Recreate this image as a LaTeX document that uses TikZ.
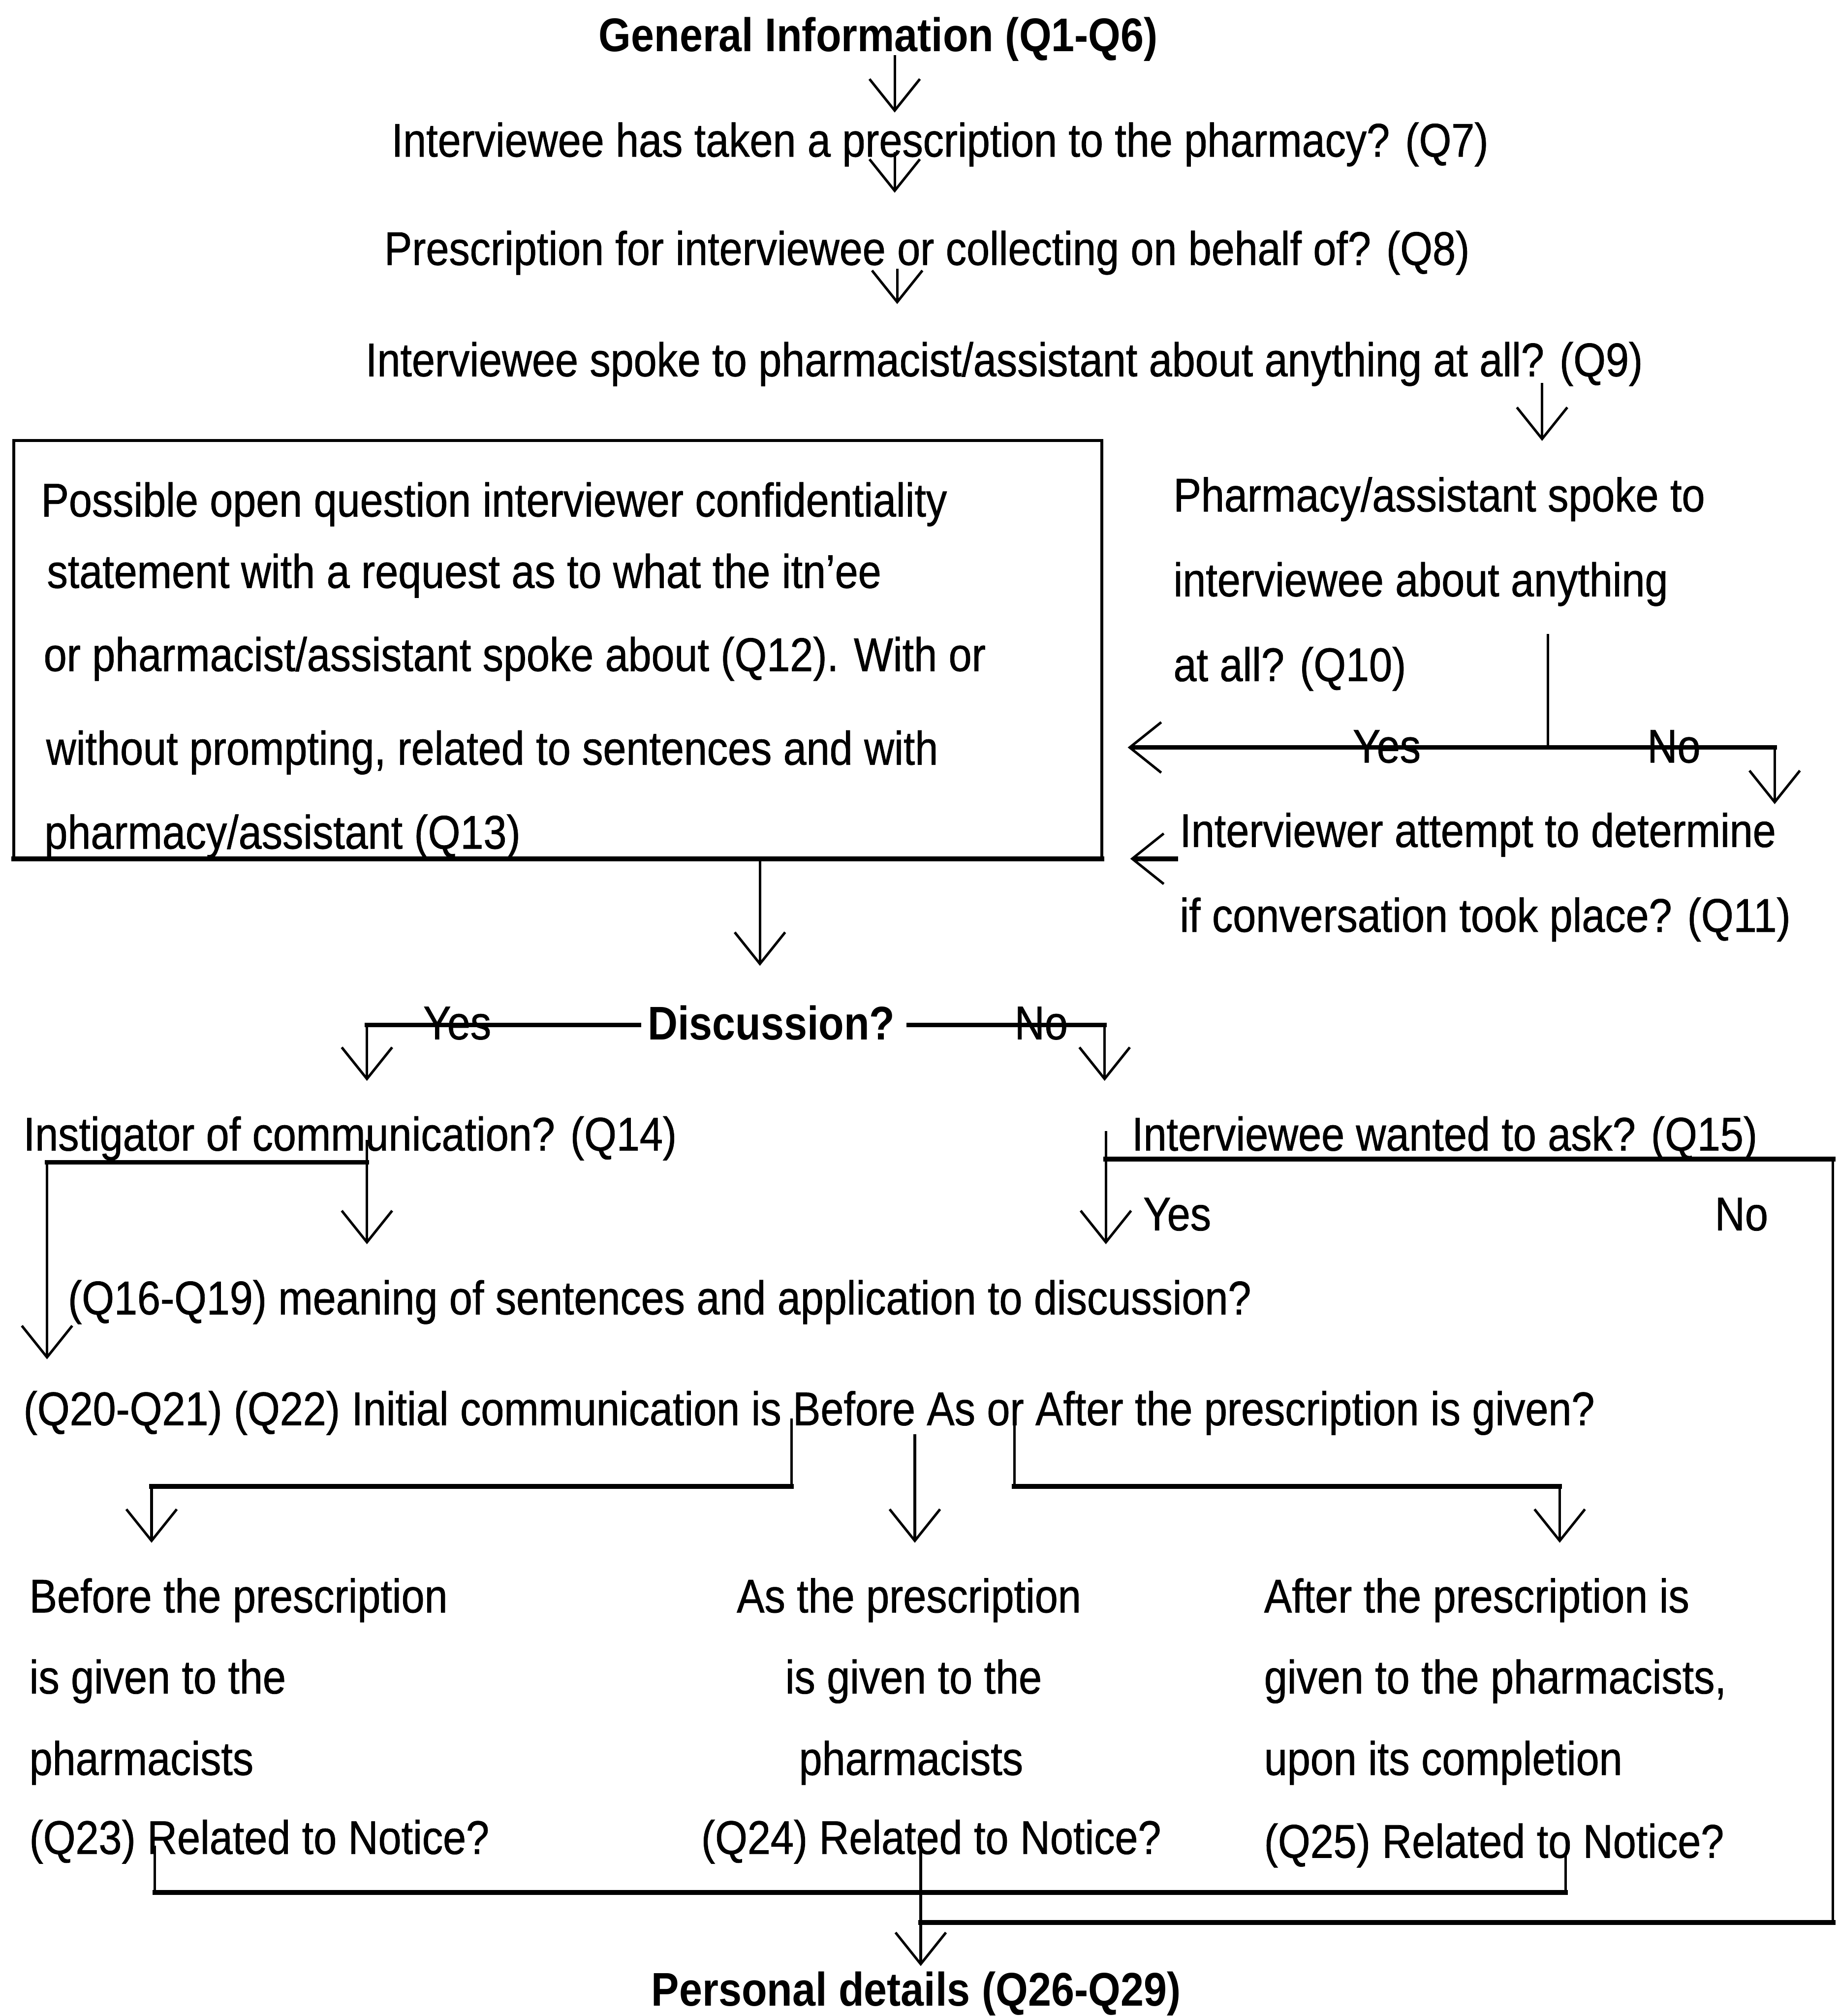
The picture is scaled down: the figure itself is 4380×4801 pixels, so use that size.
\documentclass[tikz,border=0pt]{standalone}
\usepackage{fontspec}
\setmainfont{Liberation Sans}[FakeStretch=0.88,UprightFeatures={FakeBold=0.8}]
\usetikzlibrary{arrows.meta}
\begin{document}
\begin{tikzpicture}[x=0.01cm,y=-0.01cm,
  every node/.style={inner sep=0pt,outer sep=0pt},
  lbl/.style={font=\fontsize{32}{38}\selectfont,anchor=base west},
  clbl/.style={font=\fontsize{32}{38}\selectfont,anchor=base},
  hdr/.style={font=\fontsize{32}{38}\selectfont\bfseries,anchor=base},
  thinline/.style={line width=1.7pt},
  heavyline/.style={line width=3.2pt,line cap=rect},
  flow/.style={thinline,-{Straight Barb[length=7.5mm,width=12mm,line width=1.7pt]}},
  heavyflow/.style={line width=3.2pt,-{Straight Barb[length=7.5mm,width=12mm,line width=1.7pt]}},
]
\useasboundingbox (0,0) rectangle (4380,4801);
\fill[white] (0,0) rectangle (4380,4801);

% ---- questions at the top ----
\node[hdr]  (gen) at (2092,122) {General Information (Q1-Q6)};
\node[clbl] (q7)  at (2239,373) {Interviewee has taken a prescription to the pharmacy? (Q7)};
\node[clbl] (q8)  at (2208,631) {Prescription for interviewee or collecting on behalf of? (Q8)};
\node[clbl] (q9)  at (2392,896) {Interviewee spoke to pharmacist/assistant about anything at all? (Q9)};

% ---- open question box ----
\node[draw,line width=2.2pt,anchor=north west,minimum width=25.9cm,minimum height=9.96cm] (box) at (33,1049) {};
\node[lbl] (b1) at (98,1230)  {Possible open question interviewer confidentiality};
\node[lbl] (b2) at (112,1400) {statement with a request as to what the itn'ee};
\node[lbl] (b3) at (104,1598) {or pharmacist/assistant spoke about (Q12). With or};
\node[lbl] (b4) at (110,1821) {without prompting, related to sentences and with};
\node[lbl] (b5) at (106,2021) {pharmacy/assistant (Q13)};

% ---- Q10 / Q11 ----
\node[lbl] (q10a) at (2795,1218) {Pharmacy/assistant spoke to};
\node[lbl] (q10b) at (2795,1420) {interviewee about anything};
\node[lbl] (q10c) at (2795,1622) {at all? (Q10)};
\node[lbl] (q11a) at (2810,2017) {Interviewer attempt to determine};
\node[lbl] (q11b) at (2810,2219) {if conversation took place? (Q11)};
\node[clbl] (yesA) at (3303,1816) {Yes};
\node[clbl] (noA)  at (3987,1816) {No};

% ---- discussion ----
\node[hdr]  (disc) at (1837,2476) {Discussion?};
\node[clbl] (yesB) at (1089,2475) {Yes};
\node[clbl] (noB)  at (2480,2475) {No};

\node[lbl] (q14) at (56,2740)   {Instigator of communication? (Q14)};
\node[lbl] (q15) at (2696,2740) {Interviewee wanted to ask? (Q15)};
\node[lbl] (yesC) at (2723,2930) {Yes};
\node[clbl] (noC) at (4148,2930) {No};
\node[lbl] (q16) at (162,3130) {(Q16-Q19) meaning of sentences and application to discussion?};
\node[lbl] (q20) at (56,3394)  {(Q20-Q21) (Q22) Initial communication is Before As or After the prescription is given?};

% ---- timing columns ----
\node[lbl] (c1a) at (70,3840) {Before the prescription};
\node[lbl] (c1b) at (70,4033) {is given to the};
\node[lbl] (c1c) at (70,4227) {pharmacists};
\node[lbl] (c1d) at (70,4415) {(Q23) Related to Notice?};
\node[clbl] (c2a) at (2165,3840) {As the prescription};
\node[clbl] (c2b) at (2176,4033) {is given to the};
\node[clbl] (c2c) at (2170,4227) {pharmacists};
\node[clbl] (c2d) at (2218,4415) {(Q24) Related to Notice?};
\node[lbl] (c3a) at (3011,3840) {After the prescription is};
\node[lbl] (c3b) at (3011,4033) {given to the pharmacists,};
\node[lbl] (c3c) at (3011,4227) {upon its completion};
\node[lbl] (c3d) at (3011,4424) {(Q25) Related to Notice?};

\node[hdr] (pers) at (2182,4777) {Personal details (Q26-Q29)};

% ---- connector points ----
\coordinate (c1s) at (2131,131);  \coordinate (c1t) at (2131,268);
\coordinate (c2s) at (2131,362);  \coordinate (c2t) at (2131,459);
\coordinate (c3s) at (2137,640);  \coordinate (c3t) at (2137,724);
\coordinate (c4s) at (3673,912);  \coordinate (c4t) at (3673,1050);
\coordinate (s10) at (3687,1510); \coordinate (j10) at (3687,1780);
\coordinate (yes10) at (2686,1780);
\coordinate (no10c) at (4227,1780); \coordinate (no10t) at (4227,1915);
\coordinate (q11s) at (2806,2045); \coordinate (q11t) at (2692,2045);
\coordinate (dtip) at (1810,2300);
\coordinate (dl) at (1522,2441); \coordinate (dlc) at (874,2441); \coordinate (dlt) at (874,2574);
\coordinate (dr) at (2165,2441); \coordinate (drc) at (2631,2441); \coordinate (drt) at (2631,2574);
\coordinate (q14s) at (874,2715); \coordinate (q14j) at (874,2768); \coordinate (q14t) at (874,2963);
\coordinate (q14l) at (112,2768); \coordinate (q14lt) at (112,3237);
\coordinate (q15s) at (2634,2694); \coordinate (q15j) at (2634,2760); \coordinate (q15t) at (2634,2963);
\coordinate (q15r) at (4366,2760); \coordinate (q15rb) at (4366,4578); \coordinate (mergeR) at (2193,4578);
\coordinate (bL0) at (1885,3378); \coordinate (bL1) at (1885,3540); \coordinate (bL2) at (361,3540); \coordinate (bLt) at (361,3674);
\coordinate (bM0) at (2179,3415); \coordinate (bMt) at (2179,3674);
\coordinate (bR0) at (2416,3380); \coordinate (bR1) at (2416,3540); \coordinate (bR2) at (3715,3540); \coordinate (bRt) at (3715,3674);
\coordinate (mL0) at (369,4395); \coordinate (mL1) at (369,4507);
\coordinate (mR0) at (3729,4412); \coordinate (mR1) at (3729,4507);
\coordinate (mM0) at (2193,4391); \coordinate (mMt) at (2193,4682);

% ---- connectors ----
\draw[flow] (c1s) -- (c1t);
\draw[flow] (c2s) -- (c2t);
\draw[flow] (c3s) -- (c3t);
\draw[flow] (c4s) -- (c4t);

\draw[thinline] (s10) -- (j10);
\draw[heavyflow] (j10) -- (yes10);
\draw[heavyline] (j10) -- (no10c);
\draw[flow] (no10c) -- (no10t);
\draw[heavyflow] (q11s) -- (q11t);

\draw[heavyline] (box.south west) -- (box.south east);
\draw[flow] (box.south -| dtip) -- (dtip);

\draw[heavyline] (dl) -- (dlc);
\draw[flow] (dlc) -- (dlt);
\draw[heavyline] (dr) -- (drc);
\draw[flow] (drc) -- (drt);

\draw[flow] (q14s) -- (q14t);
\draw[heavyline] (q14j) -- (q14l);
\draw[flow] (q14l) -- (q14lt);

\draw[flow] (q15s) -- (q15t);
\draw[heavyline] (q15j) -- (q15r);
\draw[thinline] (q15r) -- (q15rb);
\draw[heavyline] (q15rb) -- (mergeR);

\draw[thinline] (bL0) -- (bL1);
\draw[heavyline] (bL1) -- (bL2);
\draw[flow] (bL2) -- (bLt);
\draw[flow] (bM0) -- (bMt);
\draw[thinline] (bR0) -- (bR1);
\draw[heavyline] (bR1) -- (bR2);
\draw[flow] (bR2) -- (bRt);

\draw[thinline] (mL0) -- (mL1);
\draw[thinline] (mR0) -- (mR1);
\draw[heavyline] (mL1) -- (mR1);
\draw[flow] (mM0) -- (mMt);
\end{tikzpicture}
\end{document}
